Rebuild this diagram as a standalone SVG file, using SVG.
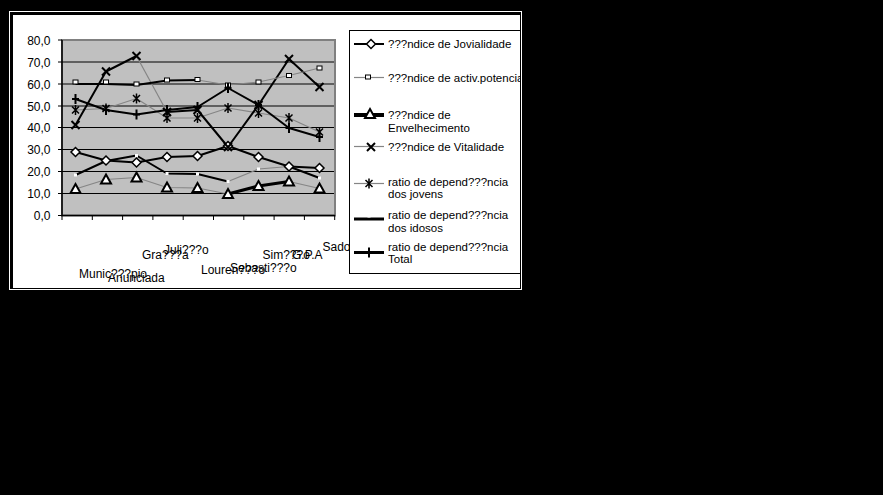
<svg xmlns="http://www.w3.org/2000/svg" width="883" height="495" viewBox="0 0 883 495">
<style>
text{font-family:"Liberation Sans",Arial,sans-serif;fill:#000}
.ax{font-size:12px}
.yl{font-size:12px;text-anchor:end}
.lg{font-size:11.5px}
.grid{stroke:#000;stroke-width:1;fill:none}
.thk{fill:none;stroke:#000;stroke-width:2;stroke-linejoin:round}
.thk3{fill:none;stroke:#000;stroke-width:3;stroke-linejoin:round}
.thn{fill:none;stroke:#858585;stroke-width:1.2;stroke-linejoin:round}
</style>
<defs>
<clipPath id="chartclip"><rect x="13" y="15" width="507" height="273"/></clipPath>
<g id="mk-diamond"><polygon points="0,-4.5 4.5,0 0,4.5 -4.5,0" fill="#fff" stroke="#000" stroke-width="1.5"/></g>
<g id="mk-square"><rect x="-2.5" y="-2" width="5" height="4" fill="#fff" stroke="#000" stroke-width="1"/></g>
<g id="mk-tri"><polygon points="0,-5 5,4 -5,4" fill="#fff" stroke="#000" stroke-width="2"/></g>
<g id="mk-x"><path d="M-4,-4 L4,4 M-4,4 L4,-4" stroke="#000" stroke-width="2" fill="none"/></g>
<g id="mk-ast"><path d="M-3.5,-3.5 L3.5,3.5 M-3.5,3.5 L3.5,-3.5 M0,-5 V5" stroke="#000" stroke-width="1.5" fill="none"/></g>
<g id="mk-dot"><rect x="-1.5" y="-1.5" width="3" height="3" fill="#fff"/></g>
<g id="mk-plus"><path d="M0,-5 V5 M-3.5,0 H3.5" stroke="#000" stroke-width="2" fill="none"/></g>
</defs>
<rect x="0" y="0" width="883" height="495" fill="#000"/>
<rect x="9" y="11" width="513" height="279" fill="#fff"/>
<rect x="10" y="12" width="511" height="277" fill="#000"/>
<rect x="13" y="15" width="507" height="273" fill="#fff"/>
<g clip-path="url(#chartclip)">
<g id="plot-area">
<rect x="62" y="40" width="273" height="175.5" fill="#c0c0c0" stroke="#808080" stroke-width="2"/>
<path class="grid" d="M62,193.5H334M62,171.5H334M62,149.5H334M62,127.5H334M62,106H334M62,84H334M62,62H334"/>
<path d="M62,40V215.5H335" stroke="#000" stroke-width="1.5" fill="none"/>
<path d="M58,40H62M58,62H62M58,84H62M58,106H62M58,127.5H62M58,149.5H62M58,171.5H62M58,193.5H62M58,215.5H62" stroke="#000" stroke-width="1"/>
<path d="M62,215V220M92.3,215V220M122.6,215V220M152.9,215V220M183.2,215V220M213.5,215V220M243.8,215V220M274.1,215V220M304.4,215V220M334.7,215V220" stroke="#000" stroke-width="1"/>
</g>
<g id="y-labels">
<text class="yl" x="50.5" y="44.5">80,0</text>
<text class="yl" x="50.5" y="66.5">70,0</text>
<text class="yl" x="50.5" y="88.5">60,0</text>
<text class="yl" x="50.5" y="110.5">50,0</text>
<text class="yl" x="50.5" y="132">40,0</text>
<text class="yl" x="50.5" y="154">30,0</text>
<text class="yl" x="50.5" y="176">20,0</text>
<text class="yl" x="50.5" y="198">10,0</text>
<text class="yl" x="50.5" y="219.5">0,0</text>
</g>
<g id="x-labels">
<text class="ax" x="79" y="277.5">Munic???pio</text>
<text class="ax" x="108" y="281.5">Anunciada</text>
<text class="ax" x="142" y="258.5">Gra???a</text>
<text class="ax" x="164" y="254">Juli???o</text>
<text class="ax" x="201" y="273.5">Louren???o</text>
<text class="ax" x="230" y="272">Sebasti???o</text>
<text class="ax" x="262.5" y="258.5">Sim???o</text>
<text class="ax" x="292" y="258.5">G.P.A</text>
<text class="ax" x="322.5" y="250.5">Sado</text>
</g>
<g id="connectors">
<polyline id="s-envelhecimento-a" class="thn" points="75.5,189 106,179.5 136.5,177.5 167,187.5 197.5,188 228,194"/>
<polyline id="s-envelhecimento-b" class="thk3" points="228,194 258.5,186 289,181.5"/>
<polyline id="s-envelhecimento-c" class="thn" points="289,181.5 319.5,188.5"/>
<polyline id="s-idosos-a" class="thk" points="75.5,175 106,161 136.5,155.5 167,173.5 197.5,174 228,181.5"/>
<polyline id="s-idosos-b" class="thn" points="228,181.5 258.5,169 289,166.5"/>
<polyline id="s-idosos-c" class="thk" points="289,166.5 319.5,178"/>
<polyline id="s-jovialidade" class="thk" points="75.5,152 106,160.5 136.5,162.5 167,157 197.5,156 228,146 258.5,157 289,166.5 319.5,168"/>
<polyline id="s-jovens" class="thn" points="75.5,110 106,108.5 136.5,98.5 167,118 197.5,118 228,108 258.5,113 289,118 319.5,132"/>
<polyline id="s-total" class="thk" points="75.5,99 106,110 136.5,114.5 167,110 197.5,107 228,88 258.5,105 289,128 319.5,137"/>
<polyline id="s-vitalidade-a" class="thk" points="75.5,125 106,71.5 136.5,56"/>
<polyline id="s-vitalidade-b" class="thn" points="136.5,56 167,112"/>
<polyline id="s-vitalidade-c" class="thk" points="167,112 197.5,110 228,147 258.5,105 289,59 319.5,87"/>
<polyline id="s-activ-a" class="thk" points="75.5,84 106,84 136.5,85 167,80.5 197.5,80"/>
<polyline id="s-activ-b" class="thn" points="197.5,80 228,85 258.5,82 289,75.5 319.5,68"/>
</g>
<g id="markers">
<use href="#mk-diamond" x="75.5" y="152"/><use href="#mk-diamond" x="106" y="160.5"/><use href="#mk-diamond" x="136.5" y="162.5"/><use href="#mk-diamond" x="167" y="157"/><use href="#mk-diamond" x="197.5" y="156"/><use href="#mk-diamond" x="228" y="146"/><use href="#mk-diamond" x="258.5" y="157"/><use href="#mk-diamond" x="289" y="166.5"/><use href="#mk-diamond" x="319.5" y="168"/>
<use href="#mk-square" x="75.5" y="82"/><use href="#mk-square" x="106" y="82"/><use href="#mk-square" x="136.5" y="84"/><use href="#mk-square" x="167" y="80"/><use href="#mk-square" x="197.5" y="79.5"/><use href="#mk-square" x="228" y="85"/><use href="#mk-square" x="258.5" y="82"/><use href="#mk-square" x="289" y="75.5"/><use href="#mk-square" x="319.5" y="68"/>
<use href="#mk-tri" x="75.5" y="189"/><use href="#mk-tri" x="106" y="179.5"/><use href="#mk-tri" x="136.5" y="177.5"/><use href="#mk-tri" x="167" y="187.5"/><use href="#mk-tri" x="197.5" y="188"/><use href="#mk-tri" x="228" y="194"/><use href="#mk-tri" x="258.5" y="186"/><use href="#mk-tri" x="289" y="181.5"/><use href="#mk-tri" x="319.5" y="188.5"/>
<use href="#mk-dot" x="75.5" y="175"/><use href="#mk-dot" x="106" y="161"/><use href="#mk-dot" x="136.5" y="155.5"/><use href="#mk-dot" x="167" y="173.5"/><use href="#mk-dot" x="197.5" y="174"/><use href="#mk-dot" x="228" y="181.5"/><use href="#mk-dot" x="258.5" y="169"/><use href="#mk-dot" x="289" y="166.5"/><use href="#mk-dot" x="319.5" y="178"/>
<use href="#mk-ast" x="75.5" y="110"/><use href="#mk-ast" x="106" y="108.5"/><use href="#mk-ast" x="136.5" y="98.5"/><use href="#mk-ast" x="167" y="118"/><use href="#mk-ast" x="197.5" y="118"/><use href="#mk-ast" x="228" y="108"/><use href="#mk-ast" x="258.5" y="113"/><use href="#mk-ast" x="289" y="118"/><use href="#mk-ast" x="319.5" y="132"/>
<use href="#mk-plus" x="75.5" y="99"/><use href="#mk-plus" x="106" y="110"/><use href="#mk-plus" x="136.5" y="114.5"/><use href="#mk-plus" x="167" y="110"/><use href="#mk-plus" x="197.5" y="107"/><use href="#mk-plus" x="228" y="88"/><use href="#mk-plus" x="258.5" y="105"/><use href="#mk-plus" x="289" y="128"/><use href="#mk-plus" x="319.5" y="137"/>
<use href="#mk-x" x="75.5" y="125"/><use href="#mk-x" x="106" y="71.5"/><use href="#mk-x" x="136.5" y="56"/><use href="#mk-x" x="167" y="112"/><use href="#mk-x" x="197.5" y="110"/><use href="#mk-x" x="228" y="147"/><use href="#mk-x" x="258.5" y="105"/><use href="#mk-x" x="289" y="59"/><use href="#mk-x" x="319.5" y="87"/>
</g>
<g id="legend">
<rect x="349.5" y="30.5" width="171" height="243" fill="#fff" stroke="#000" stroke-width="1"/>
<g id="lg-jovialidade"><path d="M354,44H384" class="thk"/><use href="#mk-diamond" x="371" y="44"/><text class="lg" x="388" y="48">???ndice de Jovialidade</text></g>
<g id="lg-activ"><path d="M354,77.5H384" class="thn"/><use href="#mk-square" x="368" y="77"/><text class="lg" x="388" y="81.5">???ndice de activ.potencial</text></g>
<g id="lg-envelhecimento"><path d="M354,115H384" stroke="#000" stroke-width="4"/><use href="#mk-tri" x="370" y="114"/><text class="lg" x="388" y="119">???ndice de</text><text class="lg" x="388" y="131.5">Envelhecimento</text></g>
<g id="lg-vitalidade"><path d="M354,146.5H384" class="thn"/><use href="#mk-x" x="371" y="147"/><text class="lg" x="388" y="150.5">???ndice de Vitalidade</text></g>
<g id="lg-jovens"><path d="M354,183.5H384" class="thn"/><use href="#mk-ast" x="369" y="183.5"/><text class="lg" x="388" y="185.5">ratio de depend???ncia</text><text class="lg" x="388" y="197.5">dos jovens</text></g>
<g id="lg-idosos"><path d="M354,219H384" class="thk3"/><use href="#mk-dot" x="369" y="216"/><text class="lg" x="388" y="219">ratio de depend???ncia</text><text class="lg" x="388" y="232">dos idosos</text></g>
<g id="lg-total"><path d="M354,252.5H384" class="thk3"/><use href="#mk-plus" x="369" y="252.5"/><text class="lg" x="388" y="250.5">ratio de depend???ncia</text><text class="lg" x="388" y="262.5">Total</text></g>
</g>
</g>
</svg>
